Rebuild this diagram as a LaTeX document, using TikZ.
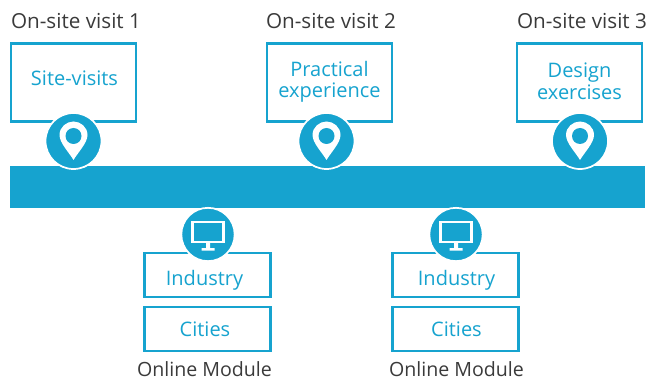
\documentclass[tikz,border=0pt]{standalone}
\usepackage{fontspec}
\setmainfont{Open Sans}
\definecolor{brandblue}{HTML}{16A3CF}
\definecolor{labelgrey}{HTML}{3A3A3A}
\tikzset{
  px/.style={x=0.75pt,y=-0.75pt},
  topbox/.style={draw=brandblue,line width=1.6pt,fill=white,minimum width=93.5pt,minimum height=58.5pt,inner sep=0pt},
  modbox/.style={draw=brandblue,line width=1.6pt,fill=white,minimum width=94.5pt,minimum height=33.5pt,inner sep=0pt},
  boxtext/.style={inner sep=0pt,align=center,text=brandblue,font=\fontsize{15}{17}\selectfont},
  caption/.style={text=labelgrey,inner sep=0pt,font=\fontsize{15.5}{18}\selectfont},
  badge/.style={circle,fill=brandblue,draw=white,line width=1.3pt,minimum size=42pt,inner sep=0pt},
}
\newcommand{\pinicon}[1]{%
  \fill[white,shift={(#1)}] (0,19) .. controls (-4,12) and (-14,2) .. (-14,-6)
    .. controls (-14,-14) and (-7,-19.5) .. (0,-19.5)
    .. controls (7,-19.5) and (14,-14) .. (14,-6)
    .. controls (14,2) and (4,12) .. (0,19) -- cycle;
  \fill[brandblue,shift={(#1)}] (0,-5) circle[radius=8];
}
\newcommand{\moniticon}[1]{%
  \draw[white,line width=1.6pt,shift={(#1)}] (-15.5,-12.5) rectangle (15.5,7.5);
  \fill[white,shift={(#1)}] (-2,8) rectangle (2,14) (-6.5,13.5) rectangle (6.5,16);
}
\begin{document}
\begin{tikzpicture}[px]
\useasboundingbox (0,0) rectangle (649,381);
\node[fill=brandblue,minimum width=476.25pt,minimum height=31.5pt,inner sep=0pt] (bar) at (327.5,187) {};
\node[topbox] (b1) at (73.5,82.5) {};
\node[topbox] (b2) at (329.5,82.5) {};
\node[topbox] (b3) at (579.5,82.5) {};
\node[boxtext] (b1t) at (74.5,78.5) {Site-visits};
\node[boxtext] (b2t) at (329.5,81.5) {Practical\\[-1.5pt]experience};
\node[boxtext] (b3t) at (579.5,81) {Design\\[-0.5pt]exercises};
\node[caption] (t1) at (76,21) {On-site visit 1};
\node[caption] (t2) at (331,21) {On-site visit 2};
\node[caption] (t3) at (582,21) {On-site visit 3};
\node[badge] (p1) at (73.5,141) {};
\node[badge] (p2) at (326.5,141) {};
\node[badge] (p3) at (580,141) {};
\pinicon{p1}\pinicon{p2}\pinicon{p3}
\node[modbox] (i1) at (207.5,275) {};
\node[modbox] (c1) at (207.5,329) {};
\node[modbox] (i2) at (455.5,275) {};
\node[modbox] (c2) at (455.5,329) {};
\node[boxtext] (i1t) at (204.5,280) {Industry};
\node[boxtext] (c1t) at (205,329) {Cities};
\node[boxtext] (i2t) at (456.5,280) {Industry};
\node[boxtext] (c2t) at (456.5,329) {Cities};
\node[badge,minimum size=40pt] (m1) at (208,234.5) {};
\node[badge,minimum size=40pt] (m2) at (456,234.5) {};
\moniticon{m1}\moniticon{m2}
\node[caption,font=\fontsize{14.7}{17}\selectfont] (o1) at (204.5,369.5) {Online Module};
\node[caption,font=\fontsize{14.7}{17}\selectfont] (o2) at (456.5,369.5) {Online Module};
\end{tikzpicture}
\end{document}
